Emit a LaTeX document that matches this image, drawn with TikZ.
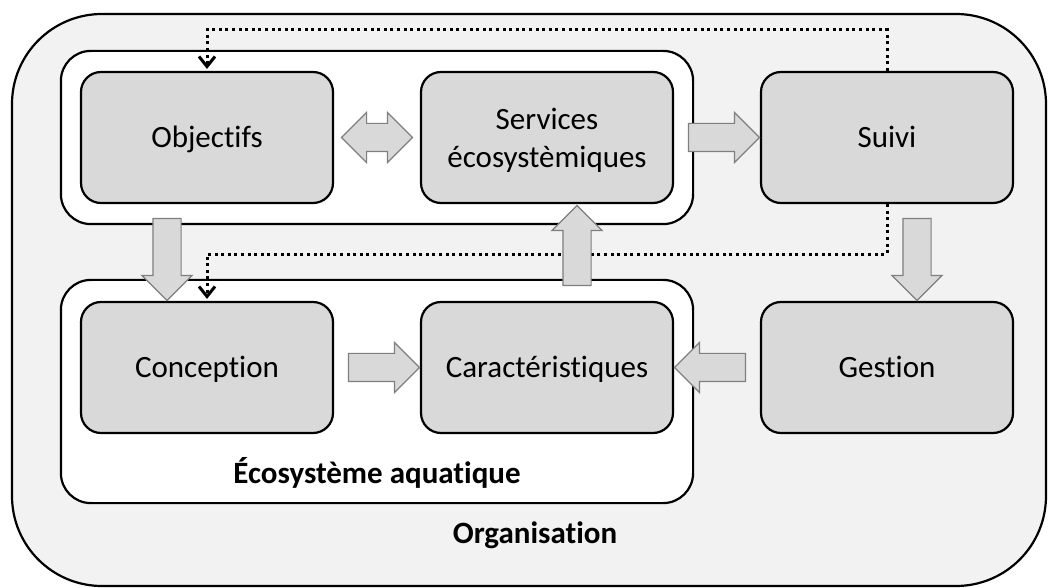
\documentclass[tikz,border=0pt]{standalone}
\usepackage{fontspec}
\setmainfont{Carlito}[Ligatures=CommonOff]
\usetikzlibrary{arrows.meta,shapes.arrows,calc,backgrounds}

\definecolor{orgfill}{HTML}{F2F2F2}
\definecolor{boxfill}{HTML}{D9D9D9}
\definecolor{arrowline}{HTML}{7F7F7F}

\begin{document}
\begin{tikzpicture}[x=0.5pt,y=0.5pt,node distance=170pt,
                    font=\fontsize{15.5}{19}\selectfont,
                    stage/.style={draw,fill=boxfill,rounded corners=10pt,line width=1.1pt,
                                  minimum width=126pt,minimum height=65.5pt,align=center},
                    oneline/.style={stage,text height=14pt,text depth=3.5pt},
                    group/.style={draw,fill=white,rounded corners=15pt,line width=1.1pt},
                    bigarrow/.style={single arrow,draw=arrowline,fill=boxfill,line width=0.6pt,
                                     minimum height=35.5pt,inner xsep=0pt,inner ysep=6.75pt,
                                     single arrow head extend=5.5pt,single arrow tip angle=90},
                    twoarrow/.style={double arrow,draw=arrowline,fill=boxfill,line width=0.6pt,
                                     minimum height=35.5pt,inner xsep=0pt,inner ysep=6.75pt,
                                     double arrow head extend=5.5pt,double arrow tip angle=90},
                    feedback/.style={-{Straight Barb[length=5pt,width=8pt]},line width=1.5pt,
                                     dash pattern=on 1.5pt off 1.8pt,shorten >=1pt},
                    title/.style={font=\fontsize{15.5}{19}\selectfont\bfseries}]
  \useasboundingbox (0,0) rectangle (1050,-588);

  \node[oneline] (Obj) at (207,-137.5) {Objectifs};
  \node[stage,text depth=0pt] (Serv) [right of=Obj] {Services\\écosystèmiques};
  \node[oneline] (Suivi) [right of=Serv] {Suivi};
  \node[oneline] (Conc) [below of=Obj,node distance=115pt] {Conception};
  \node[oneline] (Car) [right of=Conc] {Caractéristiques};
  \node[oneline] (Gest) [right of=Car] {Gestion};

  % organisation and aquatic ecosystem frames
  \begin{scope}[on background layer]
    \draw[fill=orgfill,line width=1.1pt,rounded corners=45pt] (12,-14) rectangle (1046,-586);
    \draw[group] ($(Obj.north west)+(-19,20)$) rectangle ($(Serv.south east)+(19,-20)$);
    \draw[group] ($(Conc.north west)+(-19,21)$) rectangle ($(Car.south east)+(19,-69)$);
  \end{scope}

  \node[title] (EcoLabel) at ($(Conc.south)!.5!(Car.south)+(0,-39)$) {Écosystème aquatique};
  \node[title] (OrgLabel) at (535,-535) {Organisation};

  % monitoring feedback
  \draw[feedback] (Suivi.north) -- ++(0,41) -| (Obj.north);
  \draw[feedback] (Suivi.south) -- ++(0,-50) -| (Conc.north);

  \node[twoarrow] (ObjServ) at ($(Obj.east)!.5!(Serv.west)$) {};
  \node[bigarrow] (ServSuivi) at ($(Serv.east)!.5!(Suivi.west)$) {};
  \node[bigarrow] (ConcCar) at ($(Conc.east)!.5!(Car.west)$) {};
  \node[bigarrow,rotate=180] (GestCar) at ($(Car.east)!.5!(Gest.west)$) {};
  \node[bigarrow,rotate=-90,minimum height=41pt] (ObjConc) at ($(Obj.south)!.5!(Conc.north)+(-40,0)$) {};
  \node[bigarrow,rotate=90,minimum height=40pt] (CarServ) at ($(Car.north)!.5!(Serv.south)+(30,0)$) {};
  \node[bigarrow,rotate=-90,minimum height=41pt] (SuiviGest) at ($(Suivi.south)!.5!(Gest.north)+(30,0)$) {};
\end{tikzpicture}
\end{document}
